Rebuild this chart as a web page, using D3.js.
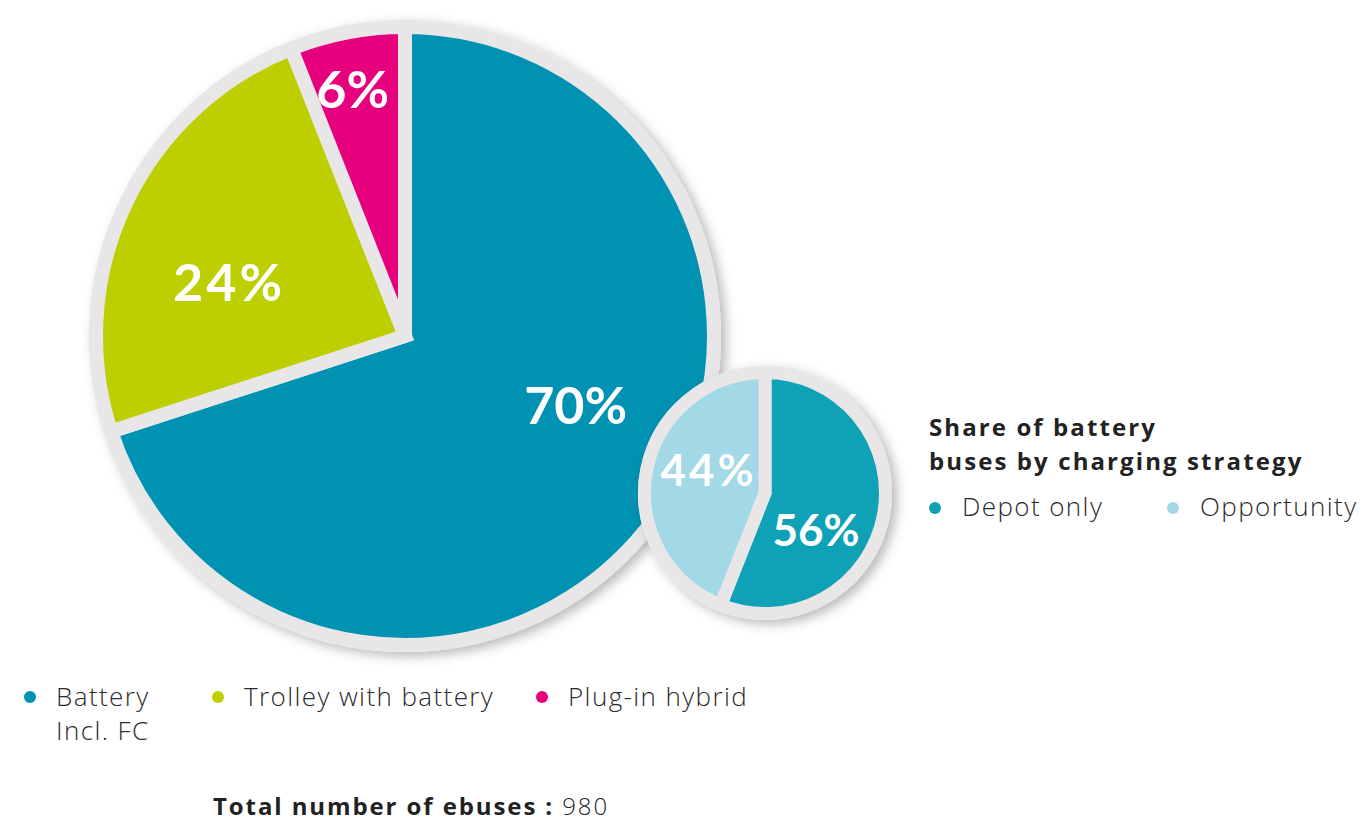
<!DOCTYPE html>
<html>
<head>
<meta charset="utf-8">
<script src="https://cdn.jsdelivr.net/npm/d3@7"></script>
<style>
  body { margin: 0; background: #fff; }
  text { font-family: "Open Sans", Lato, sans-serif; }
  text.label { font-family: Lato, "Open Sans", sans-serif; }
</style>
</head>
<body>
<svg id="chart"></svg>
<script>
// main pie: share of ebuses by technology
const busTypes = ['Battery', 'Trolley with battery', 'Plug-in hybrid']
const busShares = [70, 24, 6]
const busLegend = [['Battery', 'Incl. FC'], ['Trolley with battery'], ['Plug-in hybrid']]
const busColors = ['#0092b3', '#bdcf00', '#e6007e']

// small pie: battery buses by charging strategy
const chargeTypes = ['Depot only', 'Opportunity']
const chargeShares = [56, 44]
const chargeColors = ['#0fa2b6', '#a3d8e6']

const totalBuses = 980

const width = 1362, height = 824
const ringColor = '#e8e6e7'

const svg = d3.select('#chart')
    .attr('width', width)
    .attr('height', height)

// soft shadow under both pies
const defs = svg.append('defs')
defs.append('filter')
    .attr('id', 'shadow')
    .attr('x', '-20%').attr('y', '-20%')
    .attr('width', '140%').attr('height', '140%')
    .append('feDropShadow')
    .attr('dx', 5).attr('dy', 4)
    .attr('stdDeviation', 6)
    .attr('flood-color', '#000')
    .attr('flood-opacity', 0.28)

// draws one ringed pie; labelPos = [radius, angle in degrees] for each label
const drawPie = (values, colors, cx, cy, r, ring, labelPos, fontSize, spacing) => {
    const g = svg.append('g').attr('transform', `translate(${cx}, ${cy})`)
    g.append('circle')
        .attr('r', r + ring)
        .attr('fill', ringColor)
        .attr('filter', 'url(#shadow)')

    const pie = d3.pie().sort(null)(values)
    const arc = d3.arc().innerRadius(0).outerRadius(r + ring / 2)

    g.selectAll('.slice')
        .data(pie)
        .enter().append('path')
        .attr('class', 'slice')
        .attr('d', arc)
        .attr('fill', (d, i) => colors[i])
        .attr('stroke', ringColor)
        .attr('stroke-width', ring)
        .attr('stroke-linejoin', 'miter')

    g.selectAll('.label')
        .data(pie)
        .enter().append('text')
        .attr('class', 'label')
        .attr('x', (d, i) => labelPos[i][0] * Math.sin(labelPos[i][1] * Math.PI / 180))
        .attr('y', (d, i) => -labelPos[i][0] * Math.cos(labelPos[i][1] * Math.PI / 180))
        .attr('dy', '0.36em')
        .attr('text-anchor', 'middle')
        .attr('fill', '#fff')
        .attr('font-size', fontSize)
        .attr('font-weight', 700)
        .attr('letter-spacing', (d, i) => spacing[i])
        .text(d => d.data + '%')
}

drawPie(busShares, busColors, 405, 336, 302, 14,
    [[184, 112], [184, 287], [252, 348]], 52, [0, 3, 0])
drawPie(chargeShares, chargeColors, 765, 493, 114, 13,
    [[63, 126], [61, 292]], 44, [0, 3])

// bottom legend
const legend = svg.append('g').attr('class', 'legend')
const legendX = [30, 218, 542]
busTypes.forEach((t, i) => {
    const item = legend.append('g').attr('transform', `translate(${legendX[i]}, 697)`)
    item.append('circle').attr('r', 6).attr('fill', busColors[i])
    item.append('text')
        .attr('y', 9)
        .attr('font-size', 26)
        .attr('font-weight', 300)
        .attr('letter-spacing', 1.4)
        .attr('fill', '#2b2b2b')
        .selectAll('tspan')
        .data(busLegend[i])
        .enter().append('tspan')
        .attr('x', 26)
        .attr('dy', (d, j) => j === 0 ? 0 : 34)
        .text(d => d)
})

// right legend
const side = svg.append('g').attr('transform', 'translate(929, 0)')
side.append('text')
    .attr('font-size', 24)
    .attr('font-weight', 700)
    .attr('letter-spacing', 2.1)
    .attr('fill', '#222')
    .selectAll('tspan')
    .data(['Share of battery', 'buses by charging strategy'])
    .enter().append('tspan')
    .attr('x', 0)
    .attr('y', (d, j) => 436 + j * 34)
    .text(d => d)

const sideX = [6, 244]
chargeTypes.forEach((t, i) => {
    const item = side.append('g').attr('transform', `translate(${sideX[i]}, 508)`)
    item.append('circle').attr('r', 6).attr('fill', chargeColors[i])
    item.append('text')
        .attr('x', 27).attr('y', 8)
        .attr('font-size', 26)
        .attr('font-weight', 300)
        .attr('letter-spacing', 1.4)
        .attr('fill', '#2b2b2b')
        .text(t)
})

// total
const total = svg.append('text')
    .attr('x', 213).attr('y', 815)
    .attr('font-size', 24)
    .attr('letter-spacing', 1.9)
    .attr('fill', '#222')
total.append('tspan').attr('font-weight', 700).text('Total number of ebuses : ')
total.append('tspan').attr('font-weight', 300).text(totalBuses)
</script>
</body>
</html>
